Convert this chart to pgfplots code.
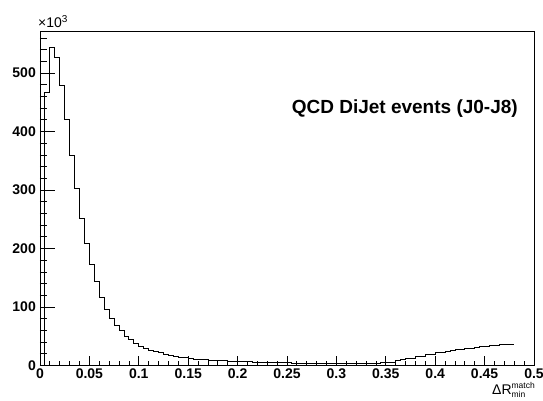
\documentclass[border=0pt]{standalone}
\usepackage{pgfplots}
\pgfplotsset{compat=1.18}
\usepackage{pgfplotstable}
\usepackage{fontspec}
\setmainfont{Liberation Sans}

% Delta R (min, match) distribution, bin width 0.005, counts in units of 10^3
% (x = lower bin edge; the last row closes the final bin)
\pgfplotstableread{
x y
0.000 0
0.005 467
0.010 544
0.015 526
0.020 479
0.025 421
0.030 360
0.035 303
0.040 252
0.045 209
0.050 172
0.055 143
0.060 117
0.065 95
0.070 81
0.075 69
0.080 60
0.085 50
0.090 44
0.095 38
0.100 33
0.105 29.5
0.110 26.5
0.115 24
0.120 21.5
0.125 19.5
0.130 17.5
0.135 16
0.140 14.5
0.145 13.5
0.150 12
0.155 11
0.160 10
0.165 9.5
0.170 9
0.175 9
0.180 8.5
0.185 8
0.190 7.5
0.195 7
0.200 7
0.205 6.5
0.210 6.5
0.215 6
0.220 5.5
0.225 5
0.230 5
0.235 4.5
0.240 4.5
0.245 4.5
0.250 4.5
0.255 4
0.260 4
0.265 4
0.270 4
0.275 4
0.280 4
0.285 4
0.290 4
0.295 4
0.300 4
0.305 4
0.310 4
0.315 4
0.320 4
0.325 4
0.330 4
0.335 4
0.340 4
0.345 4.5
0.350 5
0.355 6
0.360 8.5
0.365 9.5
0.370 11.5
0.375 12.5
0.380 15
0.385 16
0.390 18.5
0.395 19.5
0.400 21.5
0.405 22.5
0.410 24.5
0.415 25.5
0.420 27
0.425 28
0.430 29
0.435 30
0.440 31
0.445 32
0.450 33
0.455 34
0.460 35
0.465 35.5
0.470 35.5
0.475 35.5
0.480 35.5
}\histdata

\begin{document}
\begin{tikzpicture}
\useasboundingbox (-40pt,-34.5pt) rectangle (503pt,365.5pt);
% frame, x ticks and the histogram
\begin{axis}[
  at={(0,0)}, anchor=south west,
  scale only axis, width=494pt, height=334.5pt,
  xmin=0, xmax=0.5, ymin=0, ymax=572,
  axis line style={line width=0.9pt},
  tick pos=left, tick align=inside,
  major tick length=10pt, minor tick length=5pt,
  tick style={black, line width=0.8pt},
  xtick={0,0.05,0.1,0.15,0.2,0.25,0.3,0.35,0.4,0.45,0.5},
  xticklabels={0,0.05,0.1,0.15,0.2,0.25,0.3,0.35,0.4,0.45,0.5},
  minor xtick={0.01,0.02,0.03,0.04,0.06,0.07,0.08,0.09,0.11,0.12,0.13,0.14,
    0.16,0.17,0.18,0.19,0.21,0.22,0.23,0.24,0.26,0.27,0.28,0.29,
    0.31,0.32,0.33,0.34,0.36,0.37,0.38,0.39,0.41,0.42,0.43,0.44,
    0.46,0.47,0.48,0.49},
  ytick=\empty,
  xticklabel style={font=\fontsize{14}{14}\selectfont\bfseries,
    inner sep=0pt, anchor=north, yshift=-3pt},
  /pgf/number format/assume math mode=true,
  clip=false,
]
\addplot[const plot, black, line width=0.9pt] table[x=x, y=y] {\histdata};
\end{axis}
% y ticks (longer, as the ticks scale with the other axis' length)
\begin{axis}[
  at={(0,0)}, anchor=south west,
  scale only axis, width=494pt, height=334.5pt,
  xmin=0, xmax=0.5, ymin=0, ymax=572,
  axis line style={draw=none},
  tick pos=left, tick align=inside,
  major tick length=15pt, minor tick length=7.5pt,
  tick style={black, line width=0.8pt},
  xtick=\empty,
  ytick={0,100,200,300,400,500},
  yticklabels={0,100,200,300,400,500},
  minor ytick={20,40,60,80,120,140,160,180,220,240,260,280,
    320,340,360,380,420,440,460,480,520,540,560},
  yticklabel style={font=\fontsize{14}{14}\selectfont\bfseries,
    inner sep=0pt, anchor=east, xshift=-4pt},
  /pgf/number format/assume math mode=true,
]
\end{axis}
% scale factor of the y axis
\node[anchor=base west, inner sep=0pt, font=\fontsize{14}{14}\selectfont]
  at (-2pt,337.5pt) {×10\raisebox{5.5pt}{\fontsize{10}{10}\selectfont 3}};
% sample label
\node[anchor=base east, inner sep=0pt, font=\fontsize{19}{19}\selectfont\bfseries]
  at (478pt,252.5pt) {QCD DiJet events (J0-J8)};
% x axis title
\node[anchor=base east, inner sep=0pt, font=\fontsize{14}{14}\selectfont]
  at (495pt,-28.5pt) {ΔR\makebox[0pt][l]{\raisebox{-3.5pt}{\fontsize{8.5}{8.5}\selectfont min}}\raisebox{5.5pt}{\fontsize{8.5}{8.5}\selectfont match}};
\end{tikzpicture}
\end{document}
